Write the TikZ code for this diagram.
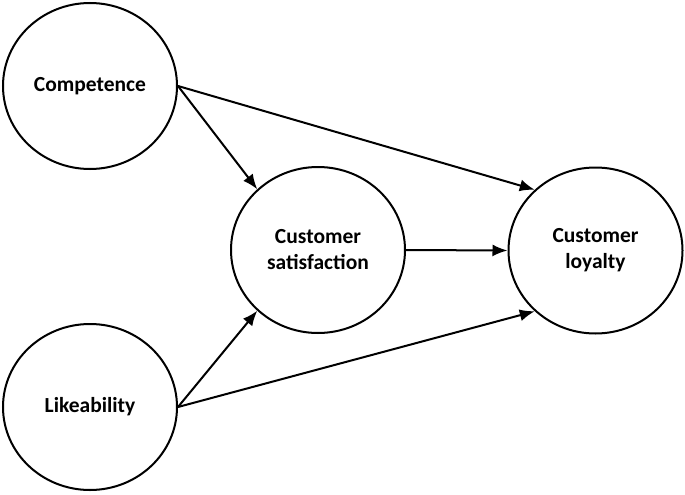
\documentclass[tikz,border=0pt]{standalone}
\usepackage{fontspec}
\setmainfont{Carlito}
\usetikzlibrary{shapes.geometric,arrows.meta}
\begin{document}
\begin{tikzpicture}[x=1pt,y=-1pt,
  construct/.style={ellipse,draw,line width=2pt,inner sep=0pt,minimum width=174pt,minimum height=166pt,
    align=center,font=\fontsize{21.5}{26}\selectfont\bfseries},
  link/.style={line width=2pt,-{Latex[length=15pt,width=12pt]}}]
\useasboundingbox (0,0) rectangle (685,495);
\node[construct] (comp) at (90,86) {Competence};
\node[construct] (like) at (90,407) {Likeability};
\node[construct] (sat) at (318,250) {Customer\\satisfaction};
\node[construct] (loy) at (595.5,250.5) {Customer\\loyalty};
\draw[link] (comp.east) -- (sat.135);
\draw[link] (comp.east) -- (loy.135);
\draw[link] (like.east) -- (sat.225);
\draw[link] (like.east) -- (loy.225);
\draw[link] (sat.east) -- (loy.west);
\end{tikzpicture}
\end{document}
